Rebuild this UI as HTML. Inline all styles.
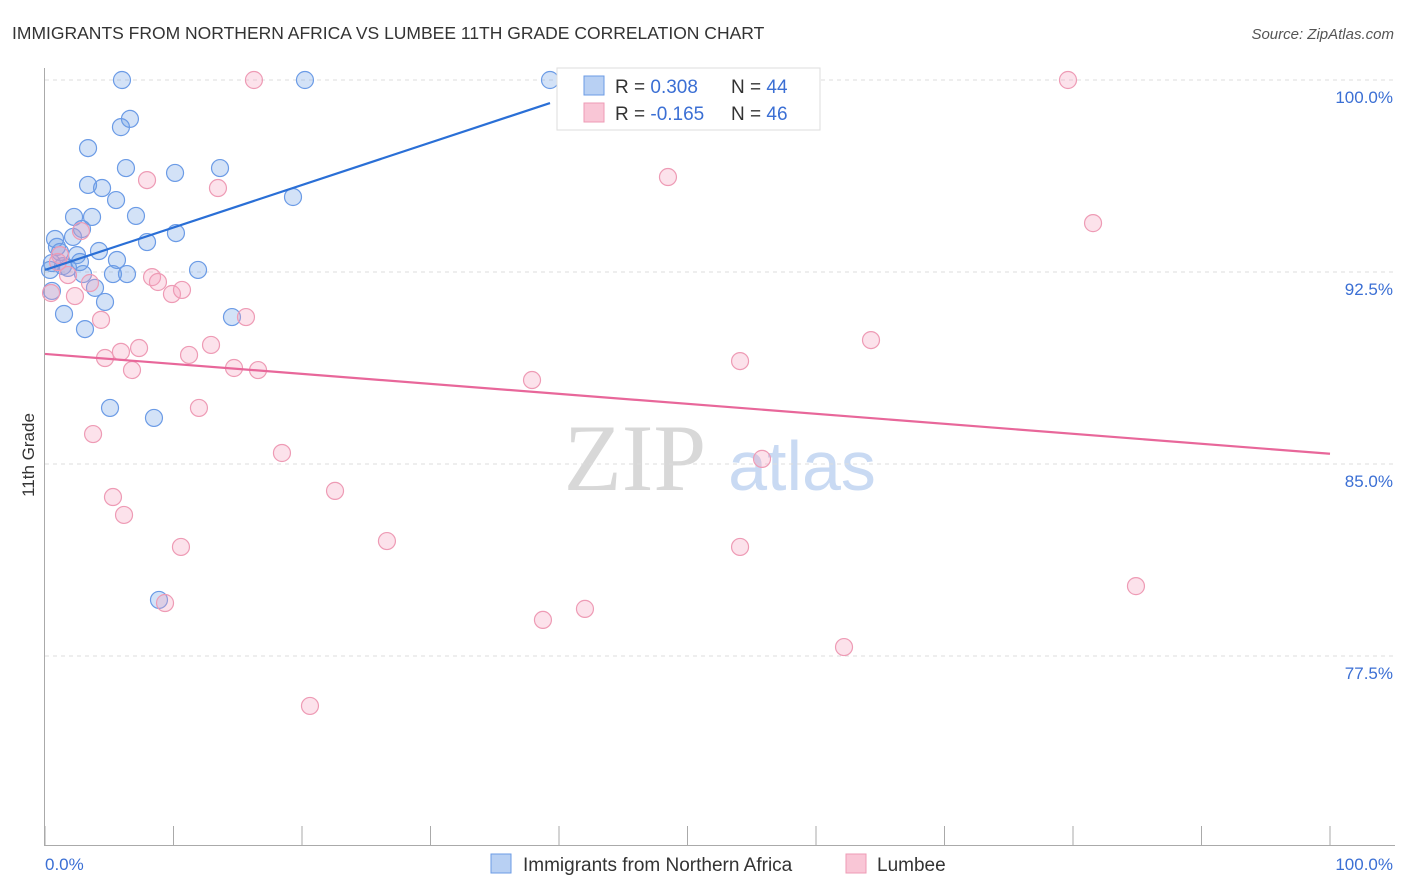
<!DOCTYPE html>
<html><head><meta charset="utf-8"><style>
body{margin:0;background:#fff;font-family:"Liberation Sans",sans-serif;}
svg{display:block}
</style></head><body>
<svg id="chart" width="1406" height="892" xmlns="http://www.w3.org/2000/svg">
<text x="12" y="39" font-size="17.5" fill="#333">IMMIGRANTS FROM NORTHERN AFRICA VS LUMBEE 11TH GRADE CORRELATION CHART</text>
<text x="1394" y="39" font-size="15" fill="#555" font-style="italic" text-anchor="end">Source: ZipAtlas.com</text>
<g>
<text x="635" y="490" font-size="95" font-family="Liberation Serif,serif" fill="#d8d8d8" text-anchor="middle">ZIP</text>
<text x="802" y="490" font-size="70" fill="#c9daf3" text-anchor="middle">atlas</text>
</g>
<g id="grid"></g>
<g id="axes"></g>
<g id="dots"></g>
<g id="trends"></g>
<text transform="translate(34,455) rotate(-90)" font-size="17" fill="#333" text-anchor="middle">11th Grade</text>
<text x="45" y="870" font-size="17" fill="#3b6fd4">0.0%</text>
<text x="1393" y="870" font-size="17" fill="#3b6fd4" text-anchor="end">100.0%</text>
<g>
<rect x="557" y="68" width="263" height="62" fill="#fff" stroke="#ddd"/>
<rect x="584" y="76" width="20" height="19" fill="#b8d0f3" stroke="#6b9be6"/>
<rect x="584" y="103" width="20" height="19" fill="#f9c6d6" stroke="#ee9bb5"/>
<text x="615" y="93" font-size="19" fill="#333">R = <tspan fill="#3b6fd4">0.308</tspan><tspan x="731">N = </tspan><tspan fill="#3b6fd4">44</tspan></text>
<text x="615" y="120" font-size="19" fill="#333">R = <tspan fill="#3b6fd4">-0.165</tspan><tspan x="731">N = </tspan><tspan fill="#3b6fd4">46</tspan></text>
</g>
<g>
<rect x="491" y="854" width="20" height="19" fill="#b8d0f3" stroke="#6b9be6"/>
<text x="523" y="871" font-size="19" fill="#333">Immigrants from Northern Africa</text>
<rect x="846" y="854" width="20" height="19" fill="#f9c6d6" stroke="#ee9bb5"/>
<text x="877" y="871" font-size="19" fill="#333">Lumbee</text>
</g>
</svg>
<script>
const yTicks=[100,92.5,85,77.5];
const yTickLabels=["100.0%","92.5%","85.0%","77.5%"];
const xTicks=[0,10,20,30,40,50,60,70,80,90,100];
const blueX=[5.99,20.23,39.3,6.61,5.91,3.35,6.30,10.12,13.62,3.35,4.44,5.53,19.30,2.26,3.66,7.08,2.88,10.19,2.18,0.78,7.94,0.93,4.20,2.49,5.60,0.54,1.40,1.79,2.96,5.29,6.38,11.91,3.89,0.54,4.67,1.48,3.11,14.55,5.06,8.48,8.87,2.72,0.39,1.17];
const blueY=[100,100,100,98.48,98.16,97.34,96.56,96.37,96.56,95.90,95.78,95.31,95.43,94.65,94.65,94.69,94.18,94.02,93.87,93.79,93.67,93.48,93.32,93.16,92.97,92.85,92.73,92.66,92.42,92.42,92.42,92.58,91.88,91.76,91.33,90.86,90.27,90.74,87.19,86.80,79.69,92.89,92.58,93.28];
const pinkX=[16.26,79.61,7.94,13.46,48.48,81.56,2.80,1.17,1.79,8.33,8.79,9.88,10.66,2.33,0.47,3.50,4.36,15.64,4.67,5.91,7.32,12.92,11.21,6.77,14.71,16.58,64.28,54.09,37.90,11.98,3.74,18.44,55.80,22.57,5.29,6.15,10.58,26.61,54.09,84.90,9.34,42.02,38.75,62.18,20.62,1.01];
const pinkY=[100,100,96.09,95.78,96.21,94.41,94.10,93.16,92.38,92.30,92.11,91.64,91.80,91.56,91.68,92.07,90.63,90.74,89.14,89.38,89.53,89.65,89.26,88.67,88.75,88.67,89.84,89.02,88.28,87.19,86.17,85.43,85.20,83.95,83.71,83.01,81.76,81.99,81.76,80.23,79.57,79.34,78.91,77.85,75.55,92.89];
const blueTrend=[92.58,99.1];   // y at x=0, y at x=blueTrendEnd
const blueTrendRange=[0,39.3];
const pinkTrend=[89.3,85.4];
const pinkTrendRange=[0,100];

const NS="http://www.w3.org/2000/svg";
const X=v=>45+v*12.85;
const Y=v=>80+(100-v)*25.6;
function mk(parent,tag,attrs){const e=document.createElementNS(NS,tag);for(const k in attrs)e.setAttribute(k,attrs[k]);document.getElementById(parent).appendChild(e);return e;}

yTicks.forEach((t,i)=>{
  const l=mk('grid','line',{x1:45,x2:1395,y1:Y(t),y2:Y(t),stroke:'#ddd','stroke-dasharray':'4,4'});
  
  
  const tx=mk('grid','text',{x:1393,y:Y(t)+23,'font-size':17,fill:'#3b6fd4','text-anchor':'end'});
  tx.textContent=yTickLabels[i];
  
  
});
const ya=mk('axes','line',{x1:44.5,x2:44.5,y1:68,y2:845,stroke:'#aaa'});


const xa=mk('axes','line',{x1:44,x2:1395,y1:845.5,y2:845.5,stroke:'#aaa'});


xTicks.forEach(t=>{
  const k=mk('axes','line',{x1:X(t),x2:X(t),y1:826,y2:845,stroke:'#aaa'});
  
  
});
blueX.forEach((v,i)=>{
  const c=mk('dots','circle',{cx:X(v),cy:Y(blueY[i]),r:8.5,fill:'rgba(110,160,230,0.3)',stroke:'#6b9be6','stroke-width':1.2});
  
  
});
pinkX.forEach((v,i)=>{
  const c=mk('dots','circle',{cx:X(v),cy:Y(pinkY[i]),r:8.5,fill:'rgba(245,160,190,0.3)',stroke:'#ee9bb5','stroke-width':1.2});
  
  
});
const bt=mk('trends','line',{x1:X(blueTrendRange[0]),y1:Y(blueTrend[0]),x2:X(blueTrendRange[1]),y2:Y(blueTrend[1]),stroke:'#2a6fd6','stroke-width':2.2});


const pt=mk('trends','line',{x1:X(pinkTrendRange[0]),y1:Y(pinkTrend[0]),x2:X(pinkTrendRange[1]),y2:Y(pinkTrend[1]),stroke:'#e8679a','stroke-width':2.2});


</script>
</body></html>
